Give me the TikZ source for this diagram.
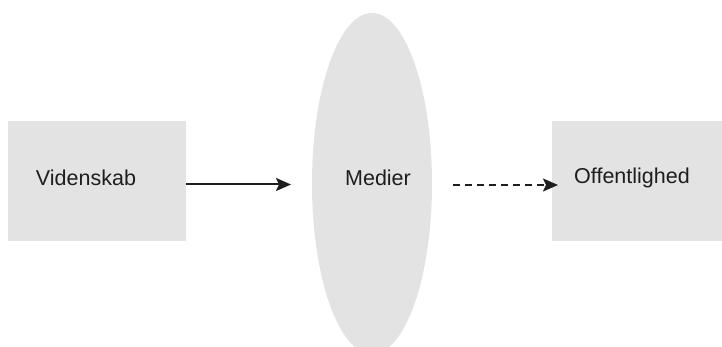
\documentclass[tikz,border=0pt]{standalone}
\usepackage{fontspec}
\setmainfont{Liberation Sans}
\usetikzlibrary{shapes.geometric,arrows.meta}
\definecolor{boxgray}{HTML}{E3E3E3}
\definecolor{inkc}{HTML}{1E1E1E}
\begin{document}
\begin{tikzpicture}[x=1pt,y=-1pt,
  boxnode/.style={fill=boxgray,draw=none,minimum width=178pt,minimum height=120pt,inner sep=0pt},
  txt/.style={font=\fontsize{21.5}{24}\selectfont,text=inkc},
  conn/.style={draw=inkc,line width=2pt,-{Stealth[length=15pt,width=13pt,inset=3pt]}}]
\useasboundingbox (0,0) rectangle (722,347);
\clip (0,0) rectangle (722,347);
\node[boxnode] (vid) at (97,181) {};
\node[boxnode,minimum width=172pt] (off) at (638,181) {};
\node[ellipse,fill=boxgray,draw=none,minimum width=120pt,minimum height=341pt,inner sep=0pt] (med) at (372,183.5) {};
\node[txt] (vidt) at (86,178) {Videnskab};
\node[txt] (medt) at (378,178) {Medier};
\node[txt] (offt) at (632,178) {Offentlighed};
\coordinate (a1e) at (291,184.5);
\coordinate (a2s) at (453,185);
\coordinate (a2e) at (558,185);
\draw[conn] (vid.east |- a1e) -- (a1e);
\draw[conn,dash pattern=on 7pt off 5pt] (a2s) -- (a2e);
\end{tikzpicture}
\end{document}
